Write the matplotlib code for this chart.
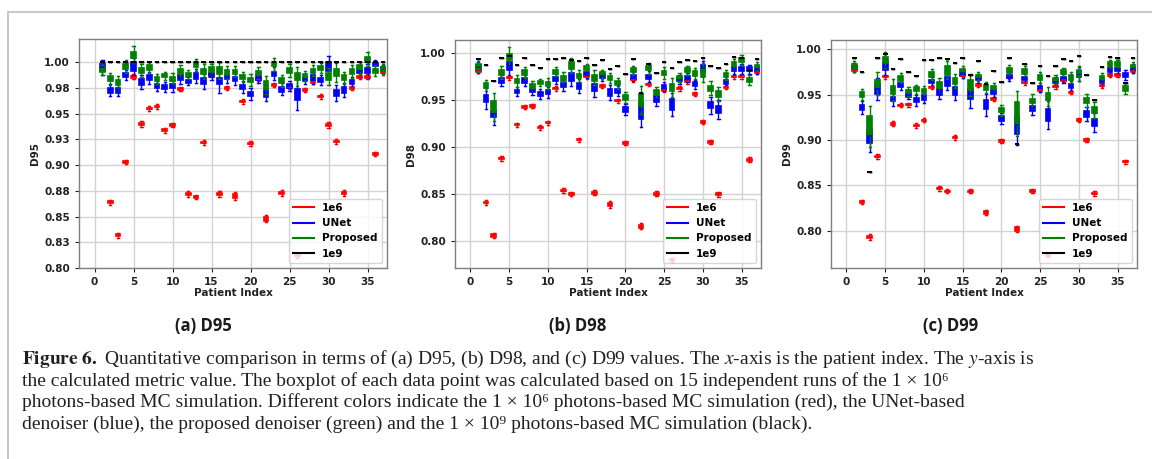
import numpy as np
import matplotlib.pyplot as plt
from matplotlib.lines import Line2D

plt.rcParams['mathtext.fontset'] = 'stix'

patients = list(range(1, 38))
methods = ['1e6', 'UNet', 'Proposed', '1e9']
colors = ['red', 'blue', 'green', 'black']

# ---- D95 ----
d95_1e6 = [0.994, 0.864, 0.832, 0.903, 0.986, 0.940, 0.955, 0.957, 0.934, 0.939, 0.974, 0.872, 0.869,
           0.922, 0.988, 0.872, 0.975, 0.870, 0.962, 0.921, 0.984, 0.848, 0.978, 0.873, 0.976, 0.812,
           0.973, 0.981, 0.967, 0.939, 0.923, 0.873, 0.975, 0.986, 0.986, 0.911, 0.990]
d95_unet = [0.995, 0.973, 0.973, 0.988, 0.996, 0.981, 0.985, 0.977, 0.976, 0.977, 0.985, 0.9815, 0.987,
            0.9815, 0.988, 0.9815, 0.986, 0.984, 0.976, 0.969, 0.985, 0.970, 0.989, 0.974, 0.977, 0.969,
            0.984, 0.985, 0.9825, 0.996, 0.970, 0.973, 0.981, 0.9915, 0.992, 0.998, 0.9935]
d95_prop = [0.9935, 0.984, 0.980, 0.996, 1.0075, 0.992, 0.995, 0.984, 0.987, 0.984, 0.991, 0.9877, 0.9977,
            0.991, 0.993, 0.992, 0.990, 0.991, 0.9854, 0.983, 0.990, 0.978, 0.998, 0.982, 0.992, 0.9864,
            0.987, 0.992, 0.9945, 0.9864, 0.990, 0.985, 0.991, 0.9945, 1.003, 0.992, 0.9935]
d95_1e9 = [1.0] * 37

# box heights / whisker spans (x 0.001)
d95_1e6_box = [1.5, 2, 2, 1.5, 1.5, 2, 1.5, 1.5, 1.5, 1.5, 1.5, 2, 1.5, 1.5, 1.5, 2, 1.5, 4, 1.5, 1.5,
               1.5, 4, 1.5, 2, 1.5, 1.5, 1.5, 1.5, 1.5, 2, 1.5, 2, 1.5, 1.5, 1.5, 1.5, 1.5]
d95_unet_box = [6, 5, 5, 4, 8, 6, 5, 4, 3, 4, 5, 3, 6, 6, 4, 6, 4, 4, 4, 4, 4, 7, 4, 5, 3, 11, 4, 5, 4,
                9, 6, 6, 4, 4, 5, 3, 3]
d95_unet_whisk = [14, 12, 12, 10, 16, 14, 12, 10, 10, 12, 12, 8, 14, 14, 10, 22, 12, 12, 12, 12, 10, 16,
                  12, 12, 10, 30, 10, 12, 10, 20, 16, 14, 10, 12, 12, 8, 8]
d95_prop_box = [5, 5, 5, 5, 6, 5, 4, 4, 3, 4, 5, 4, 5, 5, 4, 7, 5, 4, 4, 4, 4, 8, 4, 5, 5, 7, 4, 4, 4,
                7, 7, 5, 5, 5, 5, 4, 4]
d95_prop_whisk = [12, 12, 14, 12, 16, 12, 10, 10, 8, 12, 12, 10, 12, 14, 10, 16, 12, 10, 10, 12, 10, 18,
                  12, 12, 12, 18, 10, 10, 10, 16, 18, 12, 12, 12, 14, 10, 10]

# ---- D98 ----
d98_1e6 = [0.981, 0.841, 0.806, 0.888, 0.974, 0.924, 0.943, 0.944, 0.921, 0.926, 0.9626, 0.8537, 0.850,
           0.908, 0.975, 0.8516, 0.965, 0.839, 0.9495, 0.9046, 0.972, 0.8157, 0.967, 0.8505, 0.961, 0.780,
           0.9626, 0.970, 0.9566, 0.9267, 0.9057, 0.8498, 0.9637, 0.975, 0.975, 0.8865, 0.980]
d98_unet = [0.985, 0.952, 0.935, 0.971, 0.9865, 0.9594, 0.9708, 0.960, 0.9566, 0.9584, 0.9726, 0.9662,
            0.975, 0.9651, 0.9786, 0.9633, 0.9758, 0.958, 0.960, 0.9402, 0.975, 0.9395, 0.975, 0.951,
            0.9644, 0.9455, 0.972, 0.974, 0.967, 0.984, 0.9448, 0.940, 0.9698, 0.9833, 0.9833, 0.983, 0.983]
d98_prop = [0.986, 0.9655, 0.943, 0.9794, 0.9964, 0.9705, 0.9794, 0.9655, 0.9687, 0.9676, 0.9804, 0.9733,
            0.9868, 0.9758, 0.984, 0.974, 0.9776, 0.9737, 0.968, 0.9527, 0.982, 0.950, 0.984, 0.958, 0.979,
            0.9637, 0.974, 0.982, 0.9786, 0.9794, 0.9626, 0.9566, 0.9769, 0.9886, 0.993, 0.9715, 0.9858]
d98_1e9 = [0.994, 0.9875, 0.9708, 0.9947, 0.997, 0.988, 0.9947, 0.9875, 0.9847, 0.994, 0.994, 0.9954,
           0.993, 0.992, 0.9947, 0.988, 0.993, 0.983, 0.9865, 0.9783, 0.994, 0.958, 0.989, 0.979, 0.9907,
           0.984, 0.991, 0.993, 0.992, 0.9954, 0.9868, 0.984, 0.989, 0.9964, 0.995, 0.982, 0.994]

d98_1e6_box = [1.5, 2, 3, 1.5, 1.5, 1.5, 1.5, 1.5, 1.5, 1.5, 1.5, 1.5, 1.5, 1.5, 1.5, 2, 1.5, 4, 1.5,
               1.5, 1.5, 3, 1.5, 2, 1.5, 1.5, 1.5, 1.5, 1.5, 1.5, 1.5, 2, 1.5, 1.5, 1.5, 2, 1.5]
d98_unet_box = [5, 8, 6, 5, 9, 4, 5, 3, 4, 4, 4, 5, 8, 6, 4, 7, 4, 7, 4, 5, 4, 18, 4, 6, 4, 12, 4, 4, 4,
                7, 7, 8, 4, 4, 4, 4, 4]
d98_unet_whisk = [12, 22, 22, 12, 20, 10, 12, 8, 10, 12, 10, 12, 20, 15, 10, 20, 10, 16, 10, 12, 10, 36,
                  12, 15, 10, 25, 10, 10, 10, 16, 18, 20, 10, 10, 10, 10, 10]
d98_prop_box = [5, 5, 12, 5, 6, 5, 5, 4, 3, 4, 4, 5, 8, 5, 4, 6, 4, 4, 4, 5, 4, 13, 4, 5, 5, 8, 4, 4, 5,
                9, 6, 6, 4, 4, 4, 4, 4]
d98_prop_whisk = [12, 12, 30, 14, 20, 12, 12, 10, 8, 12, 10, 14, 16, 12, 10, 16, 10, 10, 12, 12, 10, 30,
                  12, 12, 12, 20, 10, 10, 12, 20, 15, 14, 10, 10, 10, 10, 10]

# ---- D99 ----
d99_1e6 = [0.977, 0.8316, 0.793, 0.8818, 0.970, 0.918, 0.9383, 0.939, 0.916, 0.9218, 0.958, 0.8466,
           0.8433, 0.9028, 0.971, 0.8433, 0.9607, 0.820, 0.9453, 0.899, 0.969, 0.802, 0.9633, 0.844, 0.955,
           0.773, 0.959, 0.9662, 0.9527, 0.922, 0.900, 0.841, 0.960, 0.9717, 0.9717, 0.876, 0.976]
d99_unet = [0.980, 0.9358, 0.904, 0.9563, 0.981, 0.945, 0.9607, 0.9497, 0.944, 0.947, 0.9644, 0.953,
            0.965, 0.954, 0.9736, 0.9505, 0.968, 0.9387, 0.9527, 0.924, 0.970, 0.9167, 0.968, 0.935, 0.958,
            0.9277, 0.9644, 0.968, 0.9596, 0.9725, 0.9288, 0.9193, 0.9644, 0.977, 0.9776, 0.9717, 0.979]
d99_prop = [0.981, 0.9505, 0.915, 0.9626, 0.988, 0.9552, 0.968, 0.9534, 0.956, 0.954, 0.9725, 0.9608,
            0.977, 0.965, 0.976, 0.9607, 0.970, 0.958, 0.958, 0.933, 0.9765, 0.9295, 0.9754, 0.943, 0.969,
            0.948, 0.9662, 0.9747, 0.969, 0.9736, 0.9435, 0.933, 0.969, 0.9835, 0.9835, 0.957, 0.981]
d99_1e9 = [0.990, 0.9754, 0.8646, 0.9908, 0.995, 0.978, 0.9894, 0.975, 0.971, 0.9883, 0.9883, 0.9908,
           0.989, 0.985, 0.9908, 0.9717, 0.9875, 0.962, 0.976, 0.9644, 0.990, 0.8958, 0.984, 0.9626, 0.982,
           0.971, 0.982, 0.989, 0.987, 0.993, 0.9717, 0.9442, 0.981, 0.992, 0.991, 0.9626, 0.991]

d99_1e6_box = [1.5, 1.5, 3, 1.5, 1.5, 2, 1.5, 1.5, 1.5, 1.5, 1.5, 1.5, 1.5, 1.5, 1.5, 1.5, 1.5, 3, 1.5,
               1.5, 1.5, 4, 1.5, 2, 1.5, 1.5, 1.5, 1.5, 1.5, 1.5, 1.5, 2, 1.5, 1.5, 1.5, 1.5, 1.5]
d99_unet_box = [4, 6, 15, 11, 8, 5, 4, 4, 5, 5, 4, 6, 10, 8, 4, 11, 4, 10, 4, 5, 4, 20, 4, 5, 4, 14, 4,
                4, 4, 5, 7, 7, 4, 4, 4, 5, 4]
d99_unet_whisk = [10, 15, 35, 25, 18, 14, 10, 10, 12, 12, 10, 15, 20, 20, 10, 30, 10, 25, 10, 12, 10, 45,
                  10, 14, 10, 30, 10, 10, 10, 15, 15, 20, 10, 10, 10, 12, 10]
d99_prop_box = [5, 5, 22, 8, 7, 8, 5, 4, 4, 5, 5, 6, 10, 6, 5, 12, 4, 5, 4, 5, 5, 25, 5, 5, 5, 8, 4, 4,
                5, 7, 6, 7, 4, 4, 4, 5, 4]
d99_prop_whisk = [12, 12, 45, 25, 18, 25, 12, 10, 10, 12, 12, 15, 20, 15, 12, 25, 10, 12, 10, 12, 12, 50,
                  12, 15, 12, 20, 10, 10, 12, 16, 15, 18, 10, 10, 10, 12, 10]


def draw_boxes(ax, med, box, whisk, color, lw=1.2):
    stats = []
    for m, b, w in zip(med, box, whisk):
        b, w = b * 1e-3, w * 1e-3
        stats.append(dict(med=m, q1=m - b / 2, q3=m + b / 2,
                          whislo=m - w / 2, whishi=m + w / 2, fliers=[]))
    ax.bxp(stats, positions=patients, widths=0.6, patch_artist=True, manage_ticks=False,
           boxprops=dict(facecolor=color, edgecolor=color, lw=lw),
           medianprops=dict(color=color, lw=lw),
           whiskerprops=dict(color=color, lw=1.0),
           capprops=dict(color=color, lw=1.0))


fig = plt.figure(figsize=(11.52, 4.59), dpi=100)

panels = [
    ('D95', [79, 39, 308, 229], (0.80, 1.0227),
     [0.8, 0.825, 0.85, 0.875, 0.9, 0.925, 0.95, 0.975, 1.0],
     ['0.80', '0.83', '0.85', '0.88', '0.90', '0.93', '0.95', '0.98', '1.00'],
     (d95_1e6, d95_1e6_box), (d95_unet, d95_unet_box, d95_unet_whisk),
     (d95_prop, d95_prop_box, d95_prop_whisk), d95_1e9, '(a) D95', 203),
    ('D98', [455, 40, 306, 228], (0.7712, 1.0142),
     [0.80, 0.85, 0.90, 0.95, 1.00], ['0.80', '0.85', '0.90', '0.95', '1.00'],
     (d98_1e6, d98_1e6_box), (d98_unet, d98_unet_box, d98_unet_whisk),
     (d98_prop, d98_prop_box, d98_prop_whisk), d98_1e9, '(b) D98', 578),
    ('D99', [831, 40, 306, 228], (0.7589, 1.0103),
     [0.80, 0.85, 0.90, 0.95, 1.00], ['0.80', '0.85', '0.90', '0.95', '1.00'],
     (d99_1e6, d99_1e6_box), (d99_unet, d99_unet_box, d99_unet_whisk),
     (d99_prop, d99_prop_box, d99_prop_whisk), d99_1e9, '(c) D99', 951),
]

W, H = 1152, 459
for name, (x0, y0, w, h), ylim, yt, ytl, red, unet, prop, ref, title, tx in panels:
    ax = fig.add_axes([x0 / W, 1 - (y0 + h) / H, w / W, h / H])
    ax.grid(True, color='#d3d3d3', lw=1.0, zorder=0)
    ax.set_axisbelow(True)
    draw_boxes(ax, red[0], red[1], [b + 3 for b in red[1]], 'red')
    draw_boxes(ax, *unet, 'blue')
    draw_boxes(ax, *prop, 'green')
    draw_boxes(ax, ref, [0] * 37, [0] * 37, 'black', lw=1.4)
    ax.set_xlim(-2, 37.5)
    ax.set_ylim(*ylim)
    ax.set_xticks([0, 5, 10, 15, 20, 25, 30, 35])
    ax.set_xticklabels([str(v) for v in [0, 5, 10, 15, 20, 25, 30, 35]])
    ax.set_yticks(yt)
    ax.set_yticklabels(ytl)
    ax.tick_params(labelsize=7.5, colors='#222222', length=3, width=0.8)
    for lab in ax.get_xticklabels() + ax.get_yticklabels():
        lab.set_fontweight('bold')
    for sp in ax.spines.values():
        sp.set_color('#7f7f7f')
        sp.set_linewidth(1.0)
    ax.set_xlabel('Patient Index', fontsize=7.5, fontweight='bold', color='#222222', labelpad=1)
    ax.set_ylabel(name, fontsize=7.5, fontweight='bold', color='#222222', labelpad=3)
    handles = [Line2D([], [], color=c, lw=1.5) for c in colors]
    ax.legend(handles, methods, loc='lower right', prop=dict(size=7.5, weight='bold'),
              framealpha=0.8, edgecolor='#cccccc')
    fig.text(tx / W, 1 - 326 / H, title, ha='center', va='center', fontsize=12,
             family='Open Sans', weight='bold', color='#1a1a1a')

# frame of the figure box
fig.add_artist(Line2D([8 / W, 8 / W], [0, 1 - 12 / H], transform=fig.transFigure,
                      color='#c8c8c8', lw=1.5))
fig.add_artist(Line2D([8 / W, 1], [1 - 12 / H, 1 - 12 / H], transform=fig.transFigure,
                      color='#c8c8c8', lw=1.5))

caption = [
    r"$\mathbf{Figure\ 6.}$ Quantitative comparison in terms of (a) D95, (b) D98, and (c) D99 values. "
    r"The $x$-axis is the patient index. The $y$-axis is",
    "the calculated metric value. The boxplot of each data point was calculated based on 15 "
    "independent runs of the 1 × 10⁶",
    "photons-based MC simulation. Different colors indicate the 1 × 10⁶ photons-based MC "
    "simulation (red), the UNet-based",
    "denoiser (blue), the proposed denoiser (green) and the 1 × 10⁹ photons-based MC "
    "simulation (black).",
]
for i, line in enumerate(caption):
    fig.text(22 / W, 1 - (364 + 21.7 * i) / H, line, ha='left', va='baseline', fontsize=14.0,
             family=['Liberation Serif', 'DejaVu Serif'], color='#231f20')

fig.savefig('out.png', dpi=100)
